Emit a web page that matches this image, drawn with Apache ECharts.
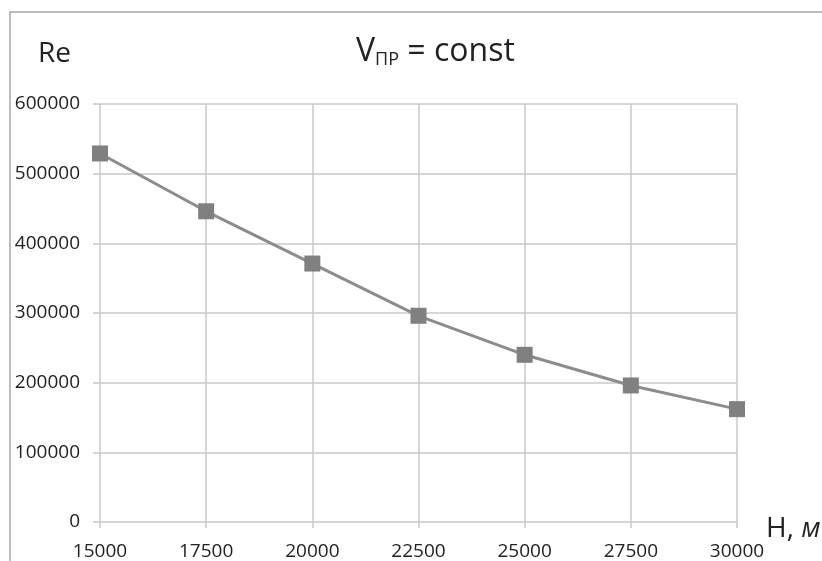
<!DOCTYPE html>
<html><head><meta charset="utf-8">
<script src="https://cdn.jsdelivr.net/npm/echarts@6/dist/echarts.min.js"></script>
<style>html,body{margin:0;padding:0;background:#fff}#c{width:822px;height:561px}</style>
</head><body><div id="c"></div>
<script>
const heights = [15000, 17500, 20000, 22500, 25000, 27500, 30000];
const reValues = [529000, 446000, 371000, 296000, 240000, 196000, 162000];
const xTicks = [15000, 17500, 20000, 22500, 25000, 27500, 30000];
const yTicks = [0, 100000, 200000, 300000, 400000, 500000, 600000];
const FONT = '"Open Sans", "Noto Sans", sans-serif';
const chart = echarts.init(document.getElementById('c'));
chart.setOption({
  animation: false,
  backgroundColor: '#fff',
  graphic: [
    {type: 'rect', shape: {x: 10, y: 12, width: 900, height: 700}, style: {fill: 'none', stroke: '#a6a6a6', lineWidth: 1.5}, silent: true},
    {type: 'text', left: 38, top: 40, style: {text: 'Re', font: '28px ' + FONT, fill: '#222'}},
    {type: 'text', left: 356, top: 36, style: {rich: {
      a: {fontSize: 32, fontFamily: FONT, fill: '#222'},
      s: {fontSize: 18, fontFamily: FONT, fill: '#222', padding: [16, 0, 0, 0]}
    }, text: '{a|V}{s|ПР}{a| = const}'}},
    {type: 'text', left: 766, top: 515, style: {rich: {
      a: {fontSize: 28, fontFamily: FONT, fill: '#222'},
      i: {fontSize: 28, fontFamily: FONT, fill: '#222', fontStyle: 'italic'}
    }, text: '{a|H, }{i|м}'}}
  ],
  grid: {left: 100, right: 85, top: 104, bottom: 38},
  xAxis: {
    type: 'value', min: 15000, max: 30000, interval: 2500,
    axisLine: {show: false},
    axisTick: {show: true, length: 6, lineStyle: {color: '#c8c8c8', width: 1.5}},
    axisLabel: {fontFamily: FONT, fontSize: 19, color: '#222', margin: 20,
      customValues: xTicks, formatter: v => String(v)},
    splitLine: {show: true, lineStyle: {color: '#c8c8c8', width: 1.5}}
  },
  yAxis: {
    type: 'value', min: 0, max: 600000, interval: 100000,
    axisLine: {show: false},
    axisTick: {show: true, length: 7, lineStyle: {color: '#c8c8c8', width: 1.5}},
    axisLabel: {fontFamily: FONT, fontSize: 19, color: '#222', margin: 20,
      customValues: yTicks, formatter: v => String(v)},
    splitLine: {show: true, lineStyle: {color: '#c8c8c8', width: 1.5}}
  },
  series: [{
    type: 'line',
    data: heights.map((h, i) => [h, reValues[i]]),
    symbol: 'rect', symbolSize: 16,
    lineStyle: {color: '#8c8c8c', width: 3},
    itemStyle: {color: '#808080'}
  }]
});
</script></body></html>
